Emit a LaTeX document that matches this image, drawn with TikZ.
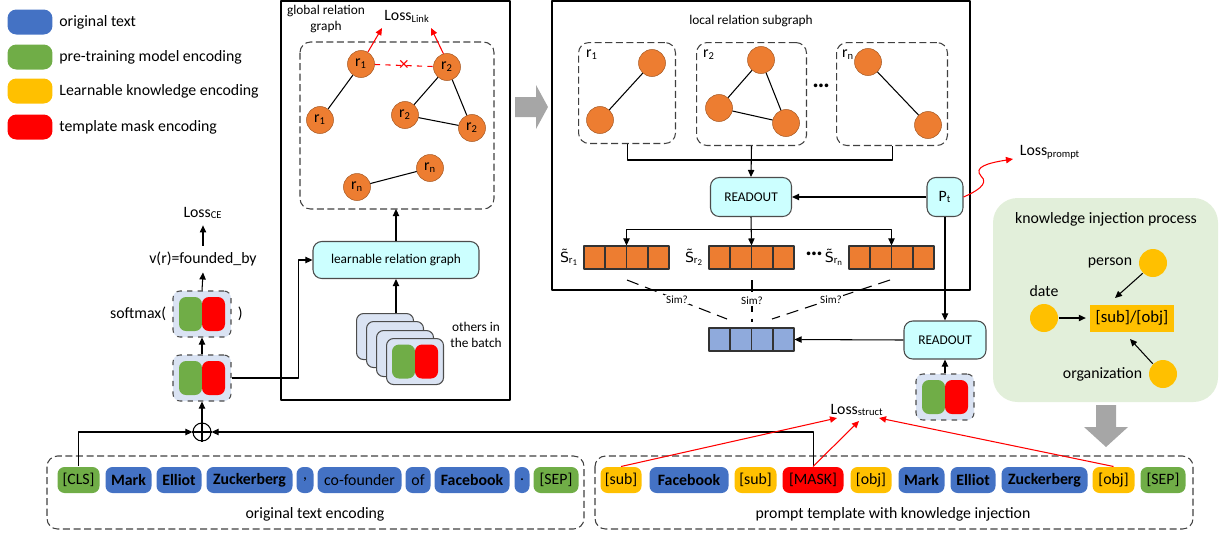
\documentclass[tikz,border=0pt]{standalone}
\usepackage{fontspec}
\setmainfont{Carlito}
\newfontfamily\djvfont{DejaVu Sans}
\usetikzlibrary{arrows.meta,positioning,calc}

\definecolor{txtblue}{HTML}{4472C4}
\definecolor{encgreen}{HTML}{70AD47}
\definecolor{knowyellow}{HTML}{FFC000}
\definecolor{maskred}{HTML}{FF0000}
\definecolor{relorange}{HTML}{ED7D31}
\definecolor{boxcyan}{HTML}{CCFFFF}
\definecolor{cardblue}{HTML}{DAE3F3}
\definecolor{vecblue}{HTML}{8FAADC}
\definecolor{injgreen}{HTML}{E2EFDA}
\definecolor{bigarrow}{HTML}{A6A6A6}

\newcommand{\lsub}[1]{\textsubscript{#1}}
\newcommand{\tildeS}{{\djvfont\fontsize{8}{9}\selectfont S̃}}

\tikzset{
  tok/.style={rounded corners=4pt, minimum height=0.52cm, inner sep=0pt, anchor=west},
  legbox/.style={rounded corners=5pt, minimum width=0.9cm, minimum height=0.5cm},
  rel/.style={circle, fill=relorange, draw=relorange!70!black, line width=0.3pt, minimum size=0.54cm, inner sep=0pt},
  procbox/.style={draw=black!70, fill=boxcyan, rounded corners=5pt, font=\fontsize{7.6}{9}\selectfont},
  card/.style={draw=black!70, dashed, fill=cardblue, rounded corners=4pt, minimum width=1.16cm, minimum height=0.92cm},
  subbox/.style={draw=black!75, dash pattern=on 4pt off 2pt, rounded corners=6pt, anchor=north west},
  vecbox/.style={draw=black!80, minimum width=1.7cm, minimum height=0.46cm, inner sep=0pt},
  simlab/.style={fill=white, inner sep=0.5pt, font=\fontsize{6.3}{7}\selectfont},
  kdot/.style={circle, fill=knowyellow, minimum size=0.56cm, inner sep=0pt},
  smalltxt/.style={font=\fontsize{7.6}{9}\selectfont},
  bigdots/.style={font=\bfseries\fontsize{14}{14}\selectfont},
  encpair/.pic={
    \fill[encgreen, rounded corners=4pt] (-23,-17) rectangle (0,17);
    \fill[maskred, rounded corners=4pt] (0,-17) rectangle (23,17);
  }
}

\begin{document}
\begin{tikzpicture}[x=0.02cm, y=-0.02cm, line join=round, line width=0.6pt,
  >={Triangle[length=4pt,width=3.6pt]}, font=\fontsize{9}{10.8}\selectfont]
\useasboundingbox (0,0) rectangle (1226,532);

% 1. legend
\foreach \c/\y/\t in {txtblue/22/original text, encgreen/57/pre-training model encoding,
    knowyellow/91/Learnable knowledge encoding, maskred/127/template mask encoding}{
  \node[legbox, fill=\c] (leg\y) at (30,\y) {};
  \node[right=0pt of leg\y] (legtxt\y) {\t};
}

% 2. global relation graph
\draw (281,1) rectangle (510,400);
\node[smalltxt, align=center] (gtitle) at (326,19) {global relation\\graph};
\draw[black!75, dash pattern=on 4pt off 2pt, rounded corners=6pt] (300,42) rectangle (494,209);
\coordinate (gbot) at (396,209);
\node[rel] (ga) at (361,64) {r\lsub{1}};
\node[rel] (gb) at (320,120) {r\lsub{1}};
\node[rel] (gc) at (447,67) {r\lsub{2}};
\node[rel] (gd) at (405,115) {r\lsub{2}};
\node[rel] (ge) at (472,128) {r\lsub{2}};
\node[rel] (gf) at (430,168) {r\lsub{n}};
\node[rel] (gg) at (357,187) {r\lsub{n}};
\draw (ga)--(gb) (gc)--(gd) (gc)--(ge) (gd)--(ge) (gg)--(gf);
\draw[maskred, dashed] (ga) -- node[midway, text=maskred, font=\fontsize{11}{11}\selectfont] (gx) {×} (gc);
\node (llink) at (407,16) {Loss\lsub{Link}};
\coordinate (lk1) at (382,28);
\coordinate (lk2) at (431,28);
\draw[->, maskred] (ga.60) -- (lk1);
\draw[->, maskred] (gc.105) -- (lk2);

\node[procbox, minimum width=3.32cm, minimum height=0.74cm] (lrg) at (396,260) {learnable relation graph};
\draw[->] (lrg.north) -- (gbot);

% others in the batch
\foreach \i/\x/\y in {0/356/313, 1/366/321, 2/376/330, 3/386/338}{
  \node[card, solid, anchor=north west, minimum width=1.14cm] (bat\i) at (\x,\y) {};
}
\pic at (bat3.center) {encpair};
\draw[->] (lrg.south |- bat0.north) -- (lrg.south);
\node[smalltxt, align=center] (oth) at (476,335) {others in\\the batch};

% 3. big arrow between the two graphs
\fill[bigarrow] (515,97) -- (536,97) -- (536,85) -- (548,107) -- (536,129) -- (536,117) -- (515,117) -- cycle;

% 4. local relation subgraph
\draw (552,1) rectangle (970,290);
\node[smalltxt] (ltitle) at (751,21) {local relation subgraph};
\node[subbox, minimum width=1.94cm, minimum height=2.02cm] (sb1) at (578,42) {};
\node[subbox, minimum width=2.2cm, minimum height=2.06cm] (sb2) at (696,42) {};
\node[subbox, minimum width=2.22cm, minimum height=2.06cm] (sb3) at (836,42) {};
\node (lr1) at (592,55) {r\lsub{1}};
\node (lr2) at (709,55) {r\lsub{2}};
\node (lrn) at (848,55) {r\lsub{n}};
\node[rel] (la) at (652,63) {};
\node[rel] (lb) at (600,120) {};
\node[rel] (lc) at (761,60) {};
\node[rel] (ld) at (719,108) {};
\node[rel] (le) at (786,123) {};
\node[rel] (lf) at (868,62) {};
\node[rel] (lg) at (928,125) {};
\draw (la)--(lb) (lc)--(ld) (lc)--(le) (ld)--(le) (lf)--(lg);
\node[bigdots] (ldots) at (821,86) {…};

\node[procbox, minimum width=1.62cm, minimum height=0.78cm] (ro1) at (751,197) {READOUT};
\node[procbox, minimum width=0.72cm, minimum height=0.78cm, font=\fontsize{9}{10}\selectfont] (pt) at (945,197) {P\lsub{t}};
\coordinate (jn) at (751,160);
\draw (sb1.south) |- (jn) -| (sb3.south);
\draw[->] (sb2.south) -- (ro1.north);
\draw[->] (pt.west) -- (ro1.east);

% relation vectors
\node[vecbox, fill=relorange] (v1) at (626.5,257.5) {};
\node[vecbox, fill=relorange] (v2) at (751.5,257.5) {};
\node[vecbox, fill=relorange] (v3) at (891.5,257.5) {};
\node[vecbox, fill=vecblue] (vb) at (751.5,339.5) {};
\foreach \v in {v1,v2,v3,vb}
  \foreach \k in {1,2,3}
    \draw[black!80] ($(\v.north west)!\k/4!(\v.north east)$) -- ($(\v.south west)!\k/4!(\v.south east)$);
\node[left=-1pt of v1] (s1) {\tildeS\lsub{r\lsub{1}}};
\node[left=-1pt of v2] (s2) {\tildeS\lsub{r\lsub{2}}};
\node[left=-1pt of v3] (s3) {\tildeS\lsub{r\lsub{n}}};
\node[bigdots] (vdots) at (814,254) {…};
\draw[->] (ro1.south) -- (v2.north);
\draw[->] ($(ro1.south)+(0,12)$) -| (v1.north);
\draw[->] ($(ro1.south)+(0,12)$) -| (v3.north);

% similarity
\coordinate (sm1a) at (627,280); \coordinate (sm1b) at (727,319);
\coordinate (sm2a) at (752,280); \coordinate (sm2b) at (752,322);
\coordinate (sm3a) at (890,280); \coordinate (sm3b) at (772,319);
\draw[dash pattern=on 7pt off 4pt] (sm1a) -- node[simlab] (sim1) {Sim?} (sm1b);
\draw[dash pattern=on 7pt off 4pt] (sm2a) -- node[simlab] (sim2) {Sim?} (sm2b);
\draw[dash pattern=on 7pt off 4pt] (sm3a) -- node[simlab] (sim3) {Sim?} (sm3b);

\node[procbox, minimum width=1.64cm, minimum height=0.76cm] (ro2) at (945,340) {READOUT};
\draw[->] (pt.south) -- (ro2.north);
\draw[->] (ro2.west) -- (vb.east);
\node[card] (card2) at (945,397) {};
\pic at (card2.center) {encpair};
\draw[->] (card2.north) -- (ro2.south);

\node (lprompt) at (1050,152) {Loss\lsub{prompt}};
\coordinate (lpr) at (1013,159);
\draw[->, maskred] (pt.east) .. controls (975,192) and (990,184) .. (981,176)
  .. controls (973,167) and (988,163) .. (lpr);

% 5. knowledge injection
\fill[injgreen] [rounded corners=14pt] (993,198) rectangle (1218,402);
\node (ktitle) at (1106,219) {knowledge injection process};
\node[kdot] (kperson) at (1153,263) {};
\node[kdot] (kdate) at (1044,318) {};
\node[kdot] (korg) at (1163,374) {};
\node[left=0pt of kperson] (lperson) {person};
\node[above=0pt of kdate] (ldate) {date};
\node[left=0pt of korg] (lorg) {organization};
\node[fill=knowyellow, minimum width=1.66cm, minimum height=0.54cm, font=\fontsize{9.5}{10}\selectfont] (kso) at (1132,318) {[sub]/[obj]};
\coordinate (kp) at (1115,298);
\coordinate (ko) at (1130,339);
\draw[->] (kperson.225) -- (kp);
\draw[->, shorten >=2pt] (kdate.east) -- (kso.west);
\draw[->] (korg.135) -- (ko);
\fill[bigarrow] (1096,405) -- (1116,405) -- (1116,427) -- (1128,427) -- (1106,447) -- (1084,427) -- (1096,427) -- cycle;

% 6. left column: prediction
\node[card] (card0) at (202,378) {};
\pic at (card0.center) {encpair};
\node[card] (card1) at (202,314) {};
\pic at (card1.center) {encpair};
\node[left=0pt of card1] (smx) {softmax(};
\node[right=0pt of card1] (smxr) {)};
\node (vr) at (203,259) {v(r)=founded\_by};
\node (lce) at (203,213) {Loss\lsub{CE}};
\draw[->] (card0.north) -- (card1.south);
\draw[->] (card1.north) -- (vr.south);
\draw[->] (vr.north) -- (lce.south);
\draw[->] (card0.east) -- ++(67,0) |- (lrg.west);

\node[circle, draw, inner sep=0pt, minimum size=0.36cm] (plus) at (202,432) {};
\draw (plus.north) -- (plus.south) (plus.west) -- (plus.east);
\draw[->] (plus.north) -- (card0.south);

% 7. token rows
\draw[black!75, dash pattern=on 4pt off 2pt, rounded corners=6pt] (47,456) rectangle (584,529);
\draw[black!75, dash pattern=on 4pt off 2pt, rounded corners=6pt] (595,456) rectangle (1193,529);
\node (lorig) at (315,514) {original text encoding};
\node (lprom) at (893,514) {prompt template with knowledge injection};
\foreach \n/\x/\w/\c/\t in {cls/57/42/encgreen/{[CLS]}, mark/105/46/txtblue/{\textbf{Mark}},
    elliot/156/45/txtblue/{\textbf{Elliot}}, zuck/206/86/txtblue/{\textbf{Zuckerberg}},
    comma/296/17/txtblue/{,}, cof/317/84/txtblue/{co-founder}, of/405/25/txtblue/{of},
    fb/434/75/txtblue/{\textbf{Facebook}}, dot/514/15/txtblue/{.}, sep/533/45/encgreen/{[SEP]},
    sub/600/41/knowyellow/{[sub]}, fbb/649/79/txtblue/{\textbf{Facebook}},
    subb/734/42/knowyellow/{[sub]}, mask/782/61/maskred/{[MASK]}, obj/850/41/knowyellow/{[obj]},
    markb/898/46/txtblue/{\textbf{Mark}}, elliotb/950/45/txtblue/{\textbf{Elliot}},
    zuckb/1001/86/txtblue/{\textbf{Zuckerberg}}, objb/1092/42/knowyellow/{[obj]},
    sepb/1140/45/encgreen/{[SEP]}}{
  \node[tok, fill=\c, minimum width=\w*0.02cm] (t\n) at (\x,480) {\t};
}
\draw[->] (tcls.north) |- (plus.west);
\draw[->] (tmask.north) |- (plus.east);

% 8. structure loss
\node (lstruct) at (857,410) {Loss\lsub{struct}};
\coordinate (ls1) at (837,418);
\coordinate (ls2) at (859,421);
\coordinate (ls3) at (879,418);
\draw[->, maskred] (tsub.north) -- (ls1);
\draw[->, maskred] (tmask.north) -- (ls2);
\draw[->, maskred] (tobjb.north) -- (ls3);
\end{tikzpicture}
\end{document}
